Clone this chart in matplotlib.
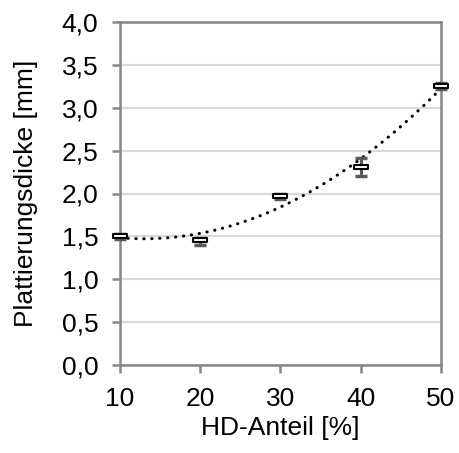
import numpy as np
import matplotlib
matplotlib.use("Agg")
import matplotlib.pyplot as plt
from matplotlib.path import Path

hd_anteil = [10, 20, 30, 40, 50]
dicke = [1.50, 1.46, 1.97, 2.31, 3.25]
fehler_unten = [0.03, 0.06, 0.03, 0.11, 0.03]
fehler_oben = [0.03, 0.02, 0.03, 0.10, 0.04]
y_ticks = [0.0, 0.5, 1.0, 1.5, 2.0, 2.5, 3.0, 3.5, 4.0]
y_labels = ["0,0", "0,5", "1,0", "1,5", "2,0", "2,5", "3,0", "3,5", "4,0"]
x_ticks = [10, 20, 30, 40, 50]

plt.rcParams['font.family'] = ['Liberation Sans', 'DejaVu Sans']

fig = plt.figure(figsize=(4.6, 4.53), dpi=100)
ax = fig.add_axes([120/460, 1-365/453, (441-120)/460, (365-22)/453])

grey = "#868686"
ax.set_xlim(10, 50)
ax.set_ylim(0, 4.0)
ax.set_yticks(y_ticks)
ax.set_yticklabels(y_labels)
ax.set_xticks(x_ticks)
ax.yaxis.grid(True, color="#d9d9d9", linewidth=1.6)
ax.set_axisbelow(True)
for s in ax.spines.values():
    s.set_color(grey)
    s.set_linewidth(1.8)
ax.tick_params(axis='both', colors=grey, width=1.8, length=5.5, labelsize=19,
               labelcolor="black")
ax.tick_params(axis='y', pad=10)
ax.tick_params(axis='x', pad=10)

# polynomial trendline (order 2)
coef = np.polyfit(hd_anteil, dicke, 2)
xs = np.linspace(10, 50, 200)
ax.plot(xs, np.polyval(coef, xs), color="black", linewidth=2.2,
        linestyle=(0, (0.1, 2.5)), dash_capstyle="round", zorder=3, clip_on=False)

ax.errorbar(hd_anteil, dicke, yerr=[fehler_unten, fehler_oben], fmt="none",
            ecolor="#595959", elinewidth=2.2, capsize=4.5, capthick=2.5,
            zorder=4, clip_on=False)

rect = Path([(-1, -0.33), (1, -0.33), (1, 0.33), (-1, 0.33), (-1, -0.33)],
            [Path.MOVETO, Path.LINETO, Path.LINETO, Path.LINETO, Path.CLOSEPOLY])
ax.plot(hd_anteil, dicke, linestyle="none", marker=rect, markersize=10,
        markerfacecolor="white", markeredgecolor="black", markeredgewidth=1.5,
        zorder=5, clip_on=False)

ax.set_xlabel("HD-Anteil [%]", fontsize=19, labelpad=4)
ax.set_ylabel("Plattierungsdicke [mm]", fontsize=19, labelpad=17)

fig.savefig("out.png", dpi=100)
